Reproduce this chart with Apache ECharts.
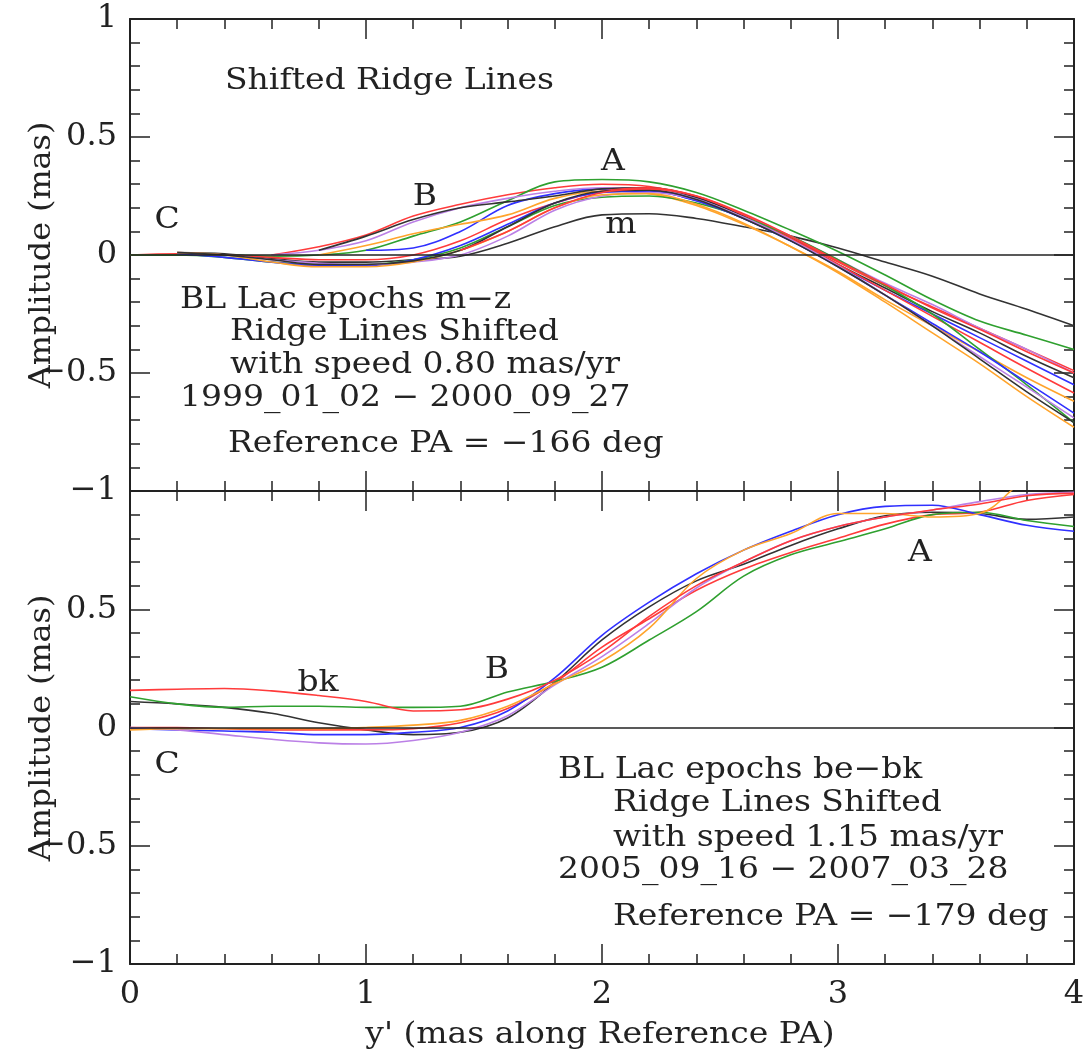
<!DOCTYPE html>
<html>
<head>
<meta charset="utf-8">
<script src="https://cdn.jsdelivr.net/npm/echarts@6/dist/echarts.min.js"></script>
<style>
html,body{margin:0;padding:0;background:#fff;}
#chart{width:1084px;height:1054px;}
</style>
</head>
<body>
<div id="chart"></div>
<script>
// x positions (mas along Reference PA)
const xs = [0,0.2,0.4,0.6,0.8,1.0,1.2,1.4,1.6,1.8,2.0,2.2,2.4,2.6,2.8,3.0,3.2,3.4,3.6,3.8,4.0];

// Top panel: epochs m - z
const ep_m = [null,0.01,0.005,-0.015,-0.03,-0.03,-0.02,-0.005,0.05,0.12,0.17,0.175,0.155,0.12,0.08,0.03,-0.03,-0.09,-0.165,-0.23,-0.30];
const ep_n = [null,null,null,0.0,0.035,0.085,0.165,0.215,0.255,0.285,0.30,0.29,0.245,0.17,0.075,-0.03,-0.13,-0.22,-0.31,-0.40,-0.49];
const ep_o = [0,0,0,-0.005,0.0,0.02,0.08,0.14,0.23,0.31,0.32,0.31,0.265,0.19,0.105,0.015,-0.085,-0.19,-0.28,-0.34,-0.40];
const ep_p = [null,null,null,null,null,0.02,0.03,0.10,0.21,0.26,0.28,0.275,0.23,0.155,0.06,-0.045,-0.15,-0.25,-0.35,-0.45,-0.55];
const ep_q = [null,null,null,0.0,0.02,0.06,0.14,0.20,0.24,0.27,0.285,0.28,0.24,0.17,0.08,-0.02,-0.12,-0.21,-0.31,-0.40,-0.50];
const ep_r = [null,null,null,null,0.0,0.04,0.09,0.13,0.17,0.24,0.27,0.26,0.21,0.13,0.035,-0.07,-0.19,-0.30,-0.41,-0.52,-0.62];
const ep_s = [null,null,null,null,0.02,0.08,0.15,0.20,0.225,0.25,0.28,0.285,0.245,0.165,0.07,-0.04,-0.14,-0.24,-0.33,-0.43,-0.52];
const ep_t = [0,0.005,0,-0.01,-0.02,-0.02,0.0,0.06,0.15,0.22,0.27,0.285,0.25,0.17,0.07,-0.04,-0.15,-0.26,-0.37,-0.48,-0.585];
const ep_u = [0,0,-0.01,-0.03,-0.04,-0.04,-0.02,0.03,0.12,0.21,0.245,0.25,0.22,0.16,0.08,-0.02,-0.13,-0.25,-0.40,-0.55,-0.71];
const ep_v = [null,0.005,-0.01,-0.03,-0.045,-0.045,-0.02,0.04,0.13,0.22,0.265,0.27,0.23,0.155,0.06,-0.05,-0.17,-0.29,-0.41,-0.54,-0.67];
const ep_w = [null,0.01,0.0,-0.02,-0.035,-0.04,-0.03,0.0,0.08,0.19,0.25,0.265,0.235,0.16,0.065,-0.045,-0.17,-0.30,-0.43,-0.56,-0.69];
const ep_x = [null,0.01,0.0,-0.03,-0.05,-0.05,-0.03,0.02,0.10,0.20,0.255,0.26,0.215,0.135,0.035,-0.075,-0.20,-0.33,-0.46,-0.60,-0.73];
const ep_y = [null,0.01,0.0,-0.02,-0.04,-0.04,-0.025,0.02,0.12,0.22,0.27,0.275,0.235,0.155,0.06,-0.05,-0.17,-0.30,-0.44,-0.58,-0.71];
const ep_z = [null,null,null,null,null,null,null,0.02,0.10,0.20,0.265,0.28,0.25,0.175,0.08,-0.025,-0.125,-0.225,-0.315,-0.41,-0.50];

// Bottom panel: epochs be - bk
const ep_be = [0.11,0.10,0.085,0.06,0.02,-0.01,-0.03,-0.02,0.04,0.19,0.37,0.51,0.62,0.69,0.77,0.84,0.895,0.91,0.905,0.88,0.89];
const ep_bf = [0.0,0.0,-0.005,-0.01,-0.01,-0.01,-0.005,0.02,0.08,0.19,0.34,0.46,0.58,0.67,0.74,0.80,0.86,0.90,0.91,0.96,0.985];
const ep_bg = [0.13,0.10,0.085,0.09,0.09,0.085,0.085,0.09,0.15,0.195,0.255,0.37,0.49,0.64,0.73,0.785,0.84,0.90,0.91,0.875,0.85];
const ep_bh = [-0.005,-0.01,-0.015,-0.02,-0.03,-0.03,-0.02,0.0,0.07,0.21,0.39,0.53,0.65,0.75,0.83,0.90,0.935,0.94,0.90,0.855,0.83];
const ep_bi = [0.0,-0.01,-0.03,-0.05,-0.065,-0.07,-0.055,-0.02,0.05,0.18,0.30,0.44,0.59,0.70,0.79,0.85,0.89,0.92,0.955,0.985,0.995];
const ep_bj = [-0.01,-0.005,-0.005,-0.005,-0.005,0.0,0.01,0.03,0.09,0.185,0.28,0.42,0.63,0.75,0.82,0.905,0.905,0.89,0.905,1.05,1.1];
const ep_bk = [0.157,0.162,0.165,0.155,0.135,0.11,0.07,0.075,0.12,0.20,0.32,0.47,0.60,0.70,0.79,0.85,0.89,0.92,0.945,0.98,0.99];

// Axis ticks
const xTicks = [0,1,2,3,4];
const yTicks = [-1,-0.5,0,0.5,1];

const C = {black:'#333333', red:'#ff3b3b', green:'#2fa02f', blue:'#3030ff', violet:'#bb80e6', orange:'#ffa42c'};

const topSeries = [
  [ep_m,C.black],[ep_n,C.red],[ep_o,C.green],[ep_p,C.blue],[ep_q,C.violet],[ep_r,C.orange],
  [ep_s,C.black],[ep_t,C.red],[ep_u,C.green],[ep_v,C.blue],[ep_w,C.violet],[ep_x,C.orange],
  [ep_y,C.black],[ep_z,C.red]
];
const botSeries = [
  [ep_be,C.black],[ep_bf,C.red],[ep_bg,C.green],[ep_bh,C.blue],[ep_bi,C.violet],[ep_bj,C.orange],[ep_bk,C.red]
];

const FONT = '"DejaVu Serif", serif';
const TXT = '#222';
const FS = 30;
const SX = 1.1;

function fmt(v){
  if (v === 0) return '0';
  return String(v).replace('-', '\u2212');
}

function xAxisDef(gridIndex, position, showLabels){
  return {
    type:'value', gridIndex, position, min:0, max:4, interval:1,
    axisLine:{show:true, onZero:false, lineStyle:{color:'#222', width:2}},
    axisTick:{show:true, inside:true, length:20, lineStyle:{color:'#222', width:1.5}},
    minorTick:{show:true, splitNumber:5, length:10, lineStyle:{color:'#222', width:1.5}},
    splitLine:{show:false}, minorSplitLine:{show:false},
    axisLabel:{show:showLabels, margin:15, fontFamily:FONT, fontSize:32, color:TXT, formatter:fmt}
  };
}
function yAxisDef(gridIndex, position, showLabels, showMax){
  return {
    type:'value', gridIndex, position, min:-1, max:1, interval:0.5,
    axisLine:{show:true, onZero:false, lineStyle:{color:'#222', width:2}},
    axisTick:{show:true, inside:true, length:20, lineStyle:{color:'#222', width:1.5}},
    minorTick:{show:true, splitNumber:5, length:10, lineStyle:{color:'#222', width:1.5}},
    splitLine:{show:false}, minorSplitLine:{show:false},
    axisLabel:{show:showLabels, margin:13, fontFamily:FONT, fontSize:32, color:TXT, formatter:fmt, showMaxLabel:showMax}
  };
}

function mkSeries(list, xi, yi){
  return list.map(([arr,col],k)=>{
    const d = [];
    xs.forEach((x,i)=>{ if(arr[i]!==null) d.push([x,arr[i]]); });
    const s = {
      type:'line', xAxisIndex:xi, yAxisIndex:yi, data:d, showSymbol:false, smooth:0.35,
      lineStyle:{color:col, width:1.6}, itemStyle:{color:col}, silent:true, animation:false, clip:true
    };
    if(k===0){
      s.markLine = {silent:true, symbol:'none', animation:false, label:{show:false},
        lineStyle:{color:'#222', type:'solid', width:1.5}, data:[{yAxis:0}]};
    }
    return s;
  });
}

function txt(x,y,s,align,rot,sx){
  return {type:'text', x, y, rotation:rot||0, scaleX:sx||SX, scaleY:1,
    style:{text:s, font:`${FS}px ${FONT}`, fill:TXT, textAlign:align||'left', textVerticalAlign:'middle'}, silent:true};
}

const chart = echarts.init(document.getElementById('chart'), null, {renderer:'canvas'});
chart.setOption({
  animation:false,
  backgroundColor:'#fff',
  grid:[
    {left:130, top:19, width:944, height:472, outerBoundsMode:'none', containLabel:false},
    {left:130, top:491, width:944, height:473, outerBoundsMode:'none', containLabel:false}
  ],
  xAxis:[
    xAxisDef(0,'bottom',false),
    xAxisDef(0,'top',false),
    xAxisDef(1,'bottom',true),
    xAxisDef(1,'top',false)
  ],
  yAxis:[
    yAxisDef(0,'left',true,true),
    yAxisDef(0,'right',false,true),
    yAxisDef(1,'left',true,false),
    yAxisDef(1,'right',false,true)
  ],
  series:[...mkSeries(topSeries,0,0), ...mkSeries(botSeries,2,2)],
  graphic:[
    txt(42,255,'Amplitude (mas)','center',Math.PI/2,1.06),
    txt(42,728,'Amplitude (mas)','center',Math.PI/2,1.06),
    txt(600,1035,"y' (mas along Reference PA)",'center'),
    txt(225,81,'Shifted Ridge Lines'),
    txt(167,220,'C','center'),
    txt(425,197,'B','center'),
    txt(613,162,'A','center'),
    txt(621,225,'m','center'),
    txt(180,300,'BL Lac epochs m\u2212z'),
    txt(230,332,'Ridge Lines Shifted'),
    txt(230,365,'with speed 0.80 mas/yr'),
    txt(180,398,'1999_01_02 \u2212 2000_09_27'),
    txt(228,444,'Reference PA = \u2212166 deg'),
    txt(318,683,'bk','center'),
    txt(497,670,'B','center'),
    txt(920,553,'A','center'),
    txt(167,765,'C','center'),
    txt(558,770,'BL Lac epochs be\u2212bk'),
    txt(613,803,'Ridge Lines Shifted'),
    txt(613,838,'with speed 1.15 mas/yr'),
    txt(558,870,'2005_09_16 \u2212 2007_03_28'),
    txt(613,917,'Reference PA = \u2212179 deg')
  ]
});
</script>
</body>
</html>
